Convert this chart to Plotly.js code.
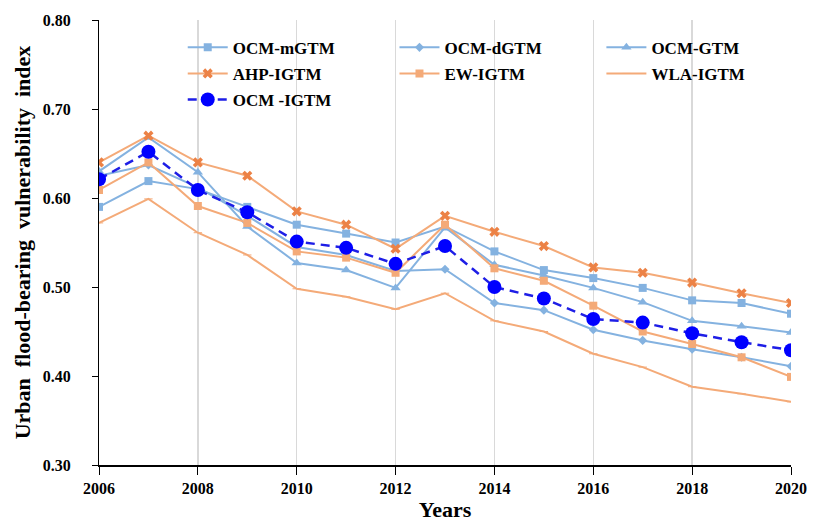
<!DOCTYPE html>
<html>
<head>
<meta charset="utf-8">
<script src="https://cdn.plot.ly/plotly-3.0.1.min.js"></script>
<style>html,body{margin:0;padding:0;background:#fff;}#chart{width:813px;height:523px;}</style>
</head>
<body>
<div id="chart"></div>
<script>
const years = [2006,2007,2008,2009,2010,2011,2012,2013,2014,2015,2016,2017,2018,2019,2020];
const ocmMGTM = [0.590,0.619,0.610,0.590,0.570,0.560,0.550,0.568,0.540,0.519,0.510,0.499,0.485,0.482,0.470];
const ocmDGTM = [0.625,0.637,0.612,0.580,0.545,0.536,0.518,0.520,0.482,0.474,0.452,0.440,0.430,0.421,0.411];
const ocmGTM  = [0.630,0.668,0.629,0.568,0.527,0.519,0.499,0.567,0.525,0.513,0.499,0.483,0.462,0.456,0.449];
const ahpIGTM = [0.640,0.670,0.640,0.625,0.585,0.570,0.543,0.580,0.562,0.546,0.522,0.516,0.505,0.493,0.482];
const ewIGTM  = [0.609,0.640,0.591,0.572,0.540,0.533,0.516,0.570,0.521,0.507,0.479,0.450,0.436,0.421,0.399];
const wlaIGTM = [0.572,0.599,0.561,0.536,0.498,0.489,0.475,0.493,0.462,0.450,0.425,0.410,0.388,0.380,0.371];
const ocmIGTM = [0.621,0.652,0.609,0.584,0.551,0.544,0.526,0.546,0.500,0.487,0.464,0.460,0.448,0.438,0.429];

const blue = 'rgb(132,178,224)';
const orange = 'rgb(244,170,120)';
const font = '"Liberation Serif", "Times New Roman", serif';

function tr(name, y, color, symbol, size, mcolor, leg) {
  return {
    x: years, y: y, name: name, type: 'scatter', mode: 'lines+markers',
    legend: leg, legendgroup: name,
    line: {color: color, width: 2},
    marker: {symbol: symbol, size: size, color: mcolor || color,
             line: {color: mcolor || color, width: symbol === 'line-ew' ? 1 : 0}}
  };
}

const data = [
  tr('OCM-mGTM', ocmMGTM, blue, 'square', 8, null, 'legend'),
  tr('OCM-dGTM', ocmDGTM, blue, 'diamond', 7, null, 'legend2'),
  tr('OCM-GTM', ocmGTM, blue, 'triangle-up', 9, null, 'legend3'),
  tr('AHP-IGTM', ahpIGTM, orange, 'x', 9, 'rgb(236,130,70)', 'legend'),
  tr('EW-IGTM', ewIGTM, orange, 'square', 8, null, 'legend2'),
  tr('WLA-IGTM', wlaIGTM, orange, 'line-ew', 6, null, 'legend3'),
  {x: years, y: ocmIGTM, name: 'OCM -IGTM', type: 'scatter', mode: 'lines+markers',
   legend: 'legend', legendgroup: 'OCM -IGTM',
   line: {color: 'rgb(30,30,230)', width: 2.5, dash: '9px,6px'},
   marker: {symbol: 'circle', size: 14, color: '#0000FF'}},
  // carrier for the label axis (draws nothing)
  {x: years, y: ocmIGTM, yaxis: 'y2', type: 'scatter', mode: 'none',
   showlegend: false, hoverinfo: 'skip'}
];

function leg(x) {
  return {
    orientation: 'v', x: x, y: 0.978, xanchor: 'left', yanchor: 'top',
    bgcolor: 'rgba(0,0,0,0)', tracegroupgap: 1, itemwidth: 40, traceorder: 'grouped',
    font: {family: font, size: 17, color: '#000', weight: 'bold'}
  };
}

const yRange = [0.30, 0.80];

const layout = {
  width: 813, height: 523,
  margin: {l: 99, r: 22, t: 20, b: 58},
  paper_bgcolor: '#fff', plot_bgcolor: '#fff',
  font: {family: font, color: '#000'},
  showlegend: true,
  legend: leg(0.121),
  legend2: leg(0.427),
  legend3: leg(0.726),
  xaxis: {
    range: [2006, 2020], tick0: 2006, dtick: 2, tickformat: 'd',
    showline: true, linecolor: '#000', linewidth: 1.5,
    ticks: 'outside', ticklen: 8, tickcolor: '#000',
    showgrid: true, gridcolor: '#d9d9d9', gridwidth: 1.5,
    zeroline: false,
    tickfont: {family: font, size: 16, color: '#000', weight: 'bold'},
    title: {text: 'Years', font: {family: font, size: 22, color: '#000', weight: 'bold'}, standoff: 6}
  },
  yaxis: {
    range: yRange, dtick: 0.1, tick0: 0.3,
    showline: true, linecolor: '#000', linewidth: 1.5,
    ticks: 'outside', ticklen: 6, tickcolor: '#000',
    showticklabels: false,
    showgrid: false, zeroline: false
  },
  yaxis2: {
    overlaying: 'y', side: 'left', anchor: 'x',
    range: yRange, dtick: 0.1, tick0: 0.3, tickformat: '.2f',
    showline: false, ticks: 'outside', ticklen: 24, tickcolor: 'rgba(0,0,0,0)',
    showgrid: false, zeroline: false,
    tickfont: {family: font, size: 16, color: '#000', weight: 'bold'},
    title: {text: 'Urban\u00A0 flood-bearing\u00A0 vulnerability\u00A0 index', font: {family: font, size: 22, color: '#000', weight: 'bold'}, standoff: 6}
  }
};

Plotly.newPlot('chart', data, layout, {staticPlot: true, displayModeBar: false});
</script>
</body>
</html>
